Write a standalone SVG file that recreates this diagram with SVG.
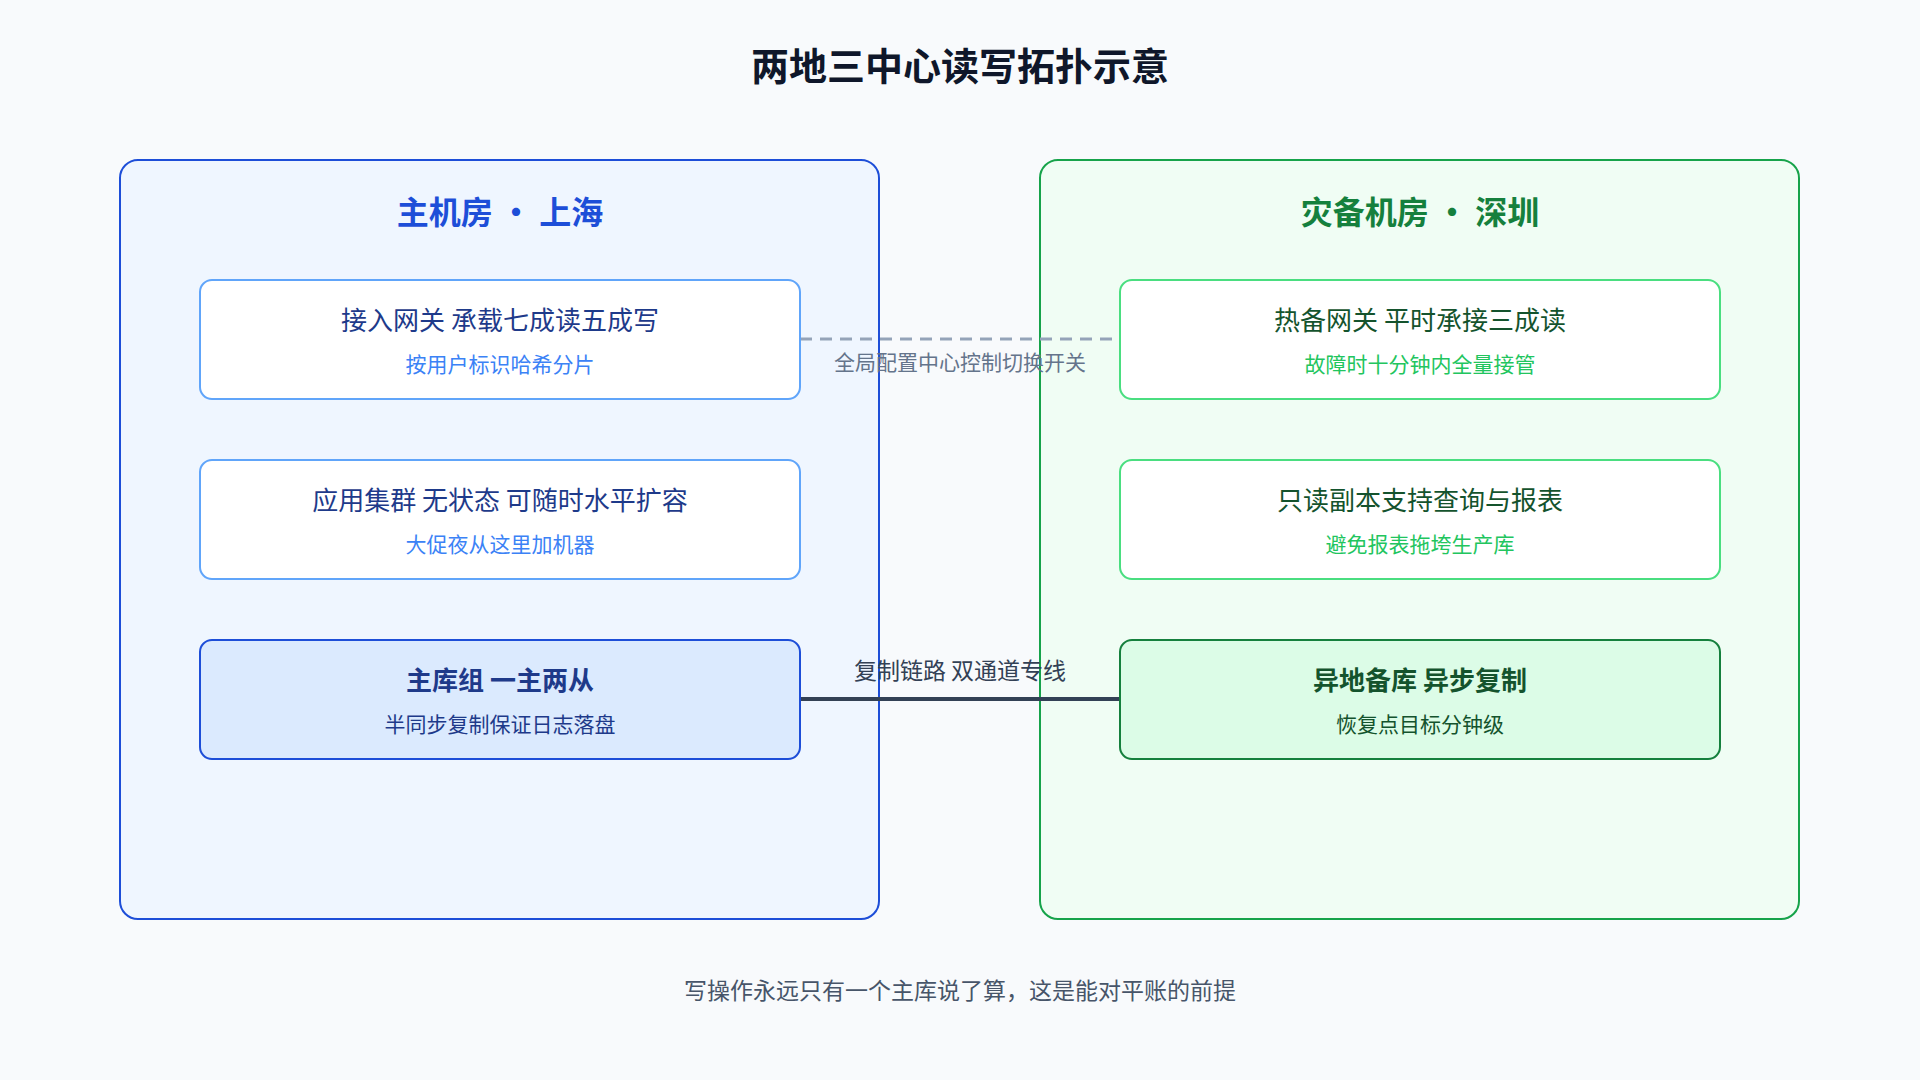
<svg xmlns="http://www.w3.org/2000/svg" width="1920" height="1080" viewBox="0 0 1920 1080">
<style>
text{font-family:"Noto Sans CJK SC","Noto Sans",sans-serif;text-anchor:middle}
.t{font-size:26px}.s{font-size:21px}
.lb{fill:#fff;stroke:#60a5fa;stroke-width:2}
.rb{fill:#fff;stroke:#4ade80;stroke-width:2}
.lt{fill:#1e3a8a}.ls{fill:#3b82f6}.rt{fill:#14532d}.rs{fill:#22c55e}
</style>
<rect width="1920" height="1080" fill="#f8fafc"/>
<text x="960" y="80" font-size="38" font-weight="bold" fill="#0f172a">两地三中心读写拓扑示意</text>
<g id="shanghai">
<rect x="120" y="160" width="759" height="759" rx="18" fill="#eff6ff" stroke="#1d4ed8" stroke-width="2"/>
<text x="500" y="224" font-size="32" font-weight="bold" fill="#1d4ed8">主机房 • 上海</text>
</g>
<g id="shenzhen">
<rect x="1040" y="160" width="759" height="759" rx="18" fill="#f0fdf4" stroke="#16a34a" stroke-width="2"/>
<text x="1420" y="224" font-size="32" font-weight="bold" fill="#15803d">灾备机房 • 深圳</text>
</g>
<g id="connectors">
<line x1="800" y1="339" x2="1114" y2="339" stroke="#94a3b8" stroke-width="3" stroke-dasharray="12 8"/>
<text x="960" y="370" font-size="21" fill="#64748b">全局配置中心控制切换开关</text>
<line x1="800" y1="699" x2="1120" y2="699" stroke="#334155" stroke-width="4"/>
<text x="960" y="679" font-size="23" fill="#334155">复制链路 双通道专线</text>
</g>
<g id="gateway"><rect class="lb" x="200" y="280" width="600" height="119" rx="12"/>
<text class="t lt" x="500" y="330">接入网关 承载七成读五成写</text><text class="s ls" x="500" y="372">按用户标识哈希分片</text></g>
<g id="app"><rect class="lb" x="200" y="460" width="600" height="119" rx="12"/>
<text class="t lt" x="500" y="510">应用集群 无状态 可随时水平扩容</text><text class="s ls" x="500" y="552">大促夜从这里加机器</text></g>
<g id="master"><rect x="200" y="640" width="600" height="119" rx="12" fill="#dbeafe" stroke="#1d4ed8" stroke-width="2"/>
<text class="t" x="500" y="690" font-weight="bold" fill="#1e3a8a">主库组 一主两从</text><text class="s" x="500" y="732" fill="#1e3a8a">半同步复制保证日志落盘</text></g>
<g id="hotgw"><rect class="rb" x="1120" y="280" width="600" height="119" rx="12"/>
<text class="t rt" x="1420" y="330">热备网关 平时承接三成读</text><text class="s rs" x="1420" y="372">故障时十分钟内全量接管</text></g>
<g id="replica"><rect class="rb" x="1120" y="460" width="600" height="119" rx="12"/>
<text class="t rt" x="1420" y="510">只读副本支持查询与报表</text><text class="s rs" x="1420" y="552">避免报表拖垮生产库</text></g>
<g id="backup"><rect x="1120" y="640" width="600" height="119" rx="12" fill="#dcfce7" stroke="#15803d" stroke-width="2"/>
<text class="t" x="1420" y="690" font-weight="bold" fill="#14532d">异地备库 异步复制</text><text class="s" x="1420" y="732" fill="#14532d">恢复点目标分钟级</text></g>
<text x="960" y="999" font-size="23" fill="#475569">写操作永远只有一个主库说了算，这是能对平账的前提</text>
</svg>
